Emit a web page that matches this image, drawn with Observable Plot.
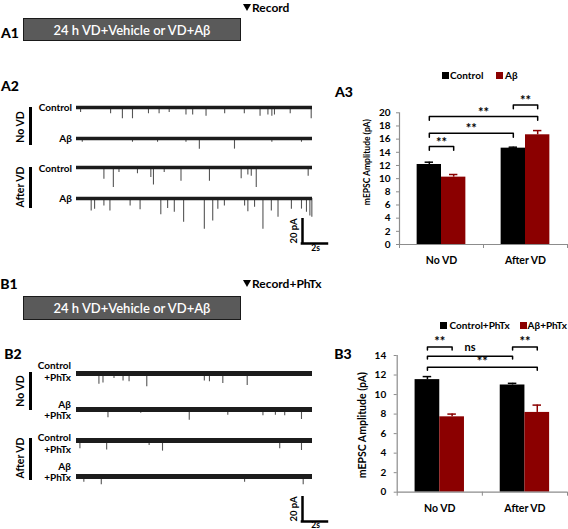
<!DOCTYPE html>
<html>
<head>
<meta charset="utf-8">
<script src="https://cdn.jsdelivr.net/npm/d3@7"></script>
<script src="https://cdn.jsdelivr.net/npm/@observablehq/plot@0.6"></script>
<style>
  html, body { margin: 0; padding: 0; background: #fff; }
  #fig { position: relative; width: 568px; height: 529px; overflow: hidden;
         font-family: Lato, "Open Sans", "DejaVu Sans", sans-serif; font-weight: 700; color: #000; }
  .t { position: absolute; white-space: nowrap; line-height: 1; transform: translate(-50%, -50%); }
  .r { position: absolute; white-space: nowrap; line-height: 1; transform: translate(-100%, -50%); }
  .l { position: absolute; white-space: nowrap; line-height: 1; transform: translate(0, -50%); }
  .rot { position: absolute; white-space: nowrap; line-height: 1; transform: translate(-50%, -50%) rotate(-90deg); }
  .panel { font-size: 14px; font-weight: 900; }
  .trl { font-size: 10px; }
  .grp { font-size: 10.5px; }
  .vbar { position: absolute; width: 3px; background: #000; }
  .box { position: absolute; left: 23px; width: 218px; box-sizing: border-box; background: #5a5a5a;
         border: 1.5px solid #1a1a1a; color: #fff; font-size: 13px; font-weight: 600;
         display: flex; align-items: center; justify-content: center; }
  .tri { position: absolute; width: 0; height: 0; border-left: 4px solid transparent;
         border-right: 4px solid transparent; border-top: 7px solid #000; }
  .sq { position: absolute; width: 7px; height: 7px; }
  .leg { font-size: 10px; }
  .plotabs { position: absolute; }
</style>
</head>
<body>
<div id="fig">
  <!-- A1 -->
  <div class="t panel" style="left:10px;top:33px">A1</div>
  <div class="box" style="top:18px;height:23px">24 h VD+Vehicle or VD+Aβ</div>
  <div class="tri" style="left:243px;top:4px"></div>
  <div class="l" style="left:252px;top:7.5px;font-size:12px">Record</div>

  <!-- A2 labels -->
  <div class="t panel" style="left:10px;top:86px">A2</div>
  <div class="r trl" style="left:72px;top:107px">Control</div>
  <div class="r trl" style="left:72px;top:138px">Aβ</div>
  <div class="r trl" style="left:72px;top:168px">Control</div>
  <div class="r trl" style="left:72px;top:198px">Aβ</div>
  <div class="vbar" style="left:29px;top:107px;height:38px"></div>
  <div class="vbar" style="left:29px;top:167px;height:41px"></div>
  <div class="rot grp" style="left:20px;top:127px">No VD</div>
  <div class="rot grp" style="left:20px;top:187px">After VD</div>

  <!-- A3 -->
  <div class="t panel" style="left:344px;top:92px">A3</div>
  <div class="sq" style="left:441.5px;top:71.5px;background:#000"></div>
  <div class="l leg" style="left:450px;top:75px">Control</div>
  <div class="sq" style="left:496px;top:71.5px;background:#8b0000"></div>
  <div class="l leg" style="left:505px;top:75px">Aβ</div>

  <!-- B1 -->
  <div class="t panel" style="left:9px;top:284px">B1</div>
  <div class="box" style="top:296px;height:24px">24 h VD+Vehicle or VD+Aβ</div>
  <div class="tri" style="left:243px;top:280px"></div>
  <div class="l" style="left:252px;top:284px;font-size:12px">Record+PhTx</div>

  <!-- B2 labels -->
  <div class="t panel" style="left:13px;top:354px">B2</div>
  <div class="r trl" style="left:71px;top:365px">Control</div>
  <div class="r trl" style="left:71px;top:377px">+PhTx</div>
  <div class="r trl" style="left:71px;top:403.5px">Aβ</div>
  <div class="r trl" style="left:71px;top:414.5px">+PhTx</div>
  <div class="r trl" style="left:71px;top:437px">Control</div>
  <div class="r trl" style="left:71px;top:449px">+PhTx</div>
  <div class="r trl" style="left:71px;top:465.5px">Aβ</div>
  <div class="r trl" style="left:71px;top:477px">+PhTx</div>
  <div class="vbar" style="left:29px;top:372px;height:38px"></div>
  <div class="vbar" style="left:29px;top:438px;height:42px"></div>
  <div class="rot grp" style="left:20px;top:391px">No VD</div>
  <div class="rot grp" style="left:20px;top:458px">After VD</div>

  <!-- B3 -->
  <div class="t panel" style="left:343px;top:353.5px">B3</div>
  <div class="sq" style="left:440px;top:321.5px;background:#000"></div>
  <div class="l leg" style="left:449.5px;top:325px">Control+PhTx</div>
  <div class="sq" style="left:519.5px;top:321.5px;background:#8b0000"></div>
  <div class="l leg" style="left:527.5px;top:325px">Aβ+PhTx</div>
</div>

<script>
// ---------------- DATA ----------------
const traceDuration = 18; // seconds shown in each trace

// spikes: [time (s), amplitude (pA, downward)]
const spikesA_noVD_control = [[0.31,4],[2.6,5],[3.5,9],[4.27,9],[5.49,5],[6.3,5],[7.07,4],[8.35,6],[8.86,6],[9.88,7],[11.3,5],[12.8,5],[14.0,7],[14.6,6],[14.9,7],[15.1,6],[16.3,5],[17.9,9]];
const spikesA_noVD_abeta = [[0.44,3],[4.27,3],[6.18,3],[8.35,3],[9.37,8.5],[12.05,8.5],[14.9,3],[17.16,3]];
const spikesA_afterVD_control = [[2.09,9.4],[2.81,16],[3.24,4],[4.65,5],[5.67,8],[5.87,14],[6.69,4],[7.97,11],[10.14,11],[12.56,9],[13.07,6],[13.33,7],[13.71,16],[17.67,7]];
const spikesA_afterVD_abeta = [[1.12,10],[1.38,8.5],[2.09,6],[2.55,10],[4.09,6],[4.85,9],[6.43,13],[6.95,8],[7.46,11],[8.17,19],[9.75,24.5],[10.39,18],[10.78,8.5],[11.28,6],[12.82,6],[13.07,10.5],[13.58,7],[14.22,24.5],[14.86,10],[15.37,15],[16.39,8.5],[17.16,8.5],[17.54,11],[17.8,14],[17.95,15]];

const spikesB_noVD_control = [[1.71,8.5],[2.02,7.5],[2.86,4],[3.55,6],[4.01,6.5],[5.36,10.5],[9.75,6],[10.14,6.5],[11.16,8],[13.02,9.5]];
const spikesB_noVD_abeta = [[2.4,6.5],[4.9,3],[8.6,8.5],[11.54,4.5],[14.22,5],[15.17,4.5],[15.88,5],[17.16,8]];
const spikesB_afterVD_control = [[0.26,6.5],[2.3,7.5],[5.54,4],[6.56,8.5],[15.5,6.5],[17.16,8]];
const spikesB_afterVD_abeta = [[0.56,4.5],[1.89,6.5],[12.82,4.5],[17.29,6.5]];

const scaleBarPA = 20;  // pA
const scaleBarS = 2;    // s

// Bar charts
const groups = ["No VD", "After VD"];

const seriesA3 = ["Control", "Aβ"];
const a3ControlMean = [12.15, 14.63];
const a3ControlSem  = [0.35, 0.15];
const a3AbetaMean   = [10.23, 16.66];
const a3AbetaSem    = [0.40, 0.64];
const a3Ticks = [0, 2, 4, 6, 8, 10, 12, 14, 16, 18, 20];
const a3Comparisons = [
  {from: [0, 0], to: [0, 1], level: 14.9, label: "**"},
  {from: [0, 0], to: [1, 0], level: 16.9, label: "**"},
  {from: [0, 0], to: [1, 1], level: 19.45, label: "**"},
  {from: [1, 0], to: [1, 1], level: 21.2, label: "**"}
];

const seriesB3 = ["Control+PhTx", "Aβ+PhTx"];
const b3ControlMean = [11.53, 10.98];
const b3ControlSem  = [0.31, 0.17];
const b3AbetaMean   = [7.72, 8.17];
const b3AbetaSem    = [0.28, 0.75];
const b3Ticks = [0, 2, 4, 6, 8, 10, 12, 14];
const b3Comparisons = [
  {from: [0, 0], to: [0, 1], level: 14.86, label: "**"},
  {from: [0, 0], to: [1, 0], level: 13.93, label: "ns"},
  {from: [0, 0], to: [1, 1], level: 12.8, label: "**"},
  {from: [1, 0], to: [1, 1], level: 14.86, label: "**"}
];

const yLabel = "mEPSC Amplitude (pA)";
const barColors = ["#000000", "#8b0000"];

// ---------------- DRAWING ----------------
const fig = document.getElementById("fig");
const FONT = 'Lato, "Open Sans", "DejaVu Sans", sans-serif';

function place(svg, left, top) {
  svg.classList.add("plotabs");
  svg.style.left = left + "px";
  svg.style.top = top + "px";
  fig.appendChild(svg);
}

const TRACE_W = 237, TRACE_PX = 236;
function tracePlot(spikes, baselineY, noiseW) {
  const svg = Plot.plot({
    width: TRACE_W, height: 45, margin: 0,
    x: {domain: [0, traceDuration], range: [0, TRACE_PX], axis: null},
    y: {domain: [-32, 4], range: [45, 0], axis: null},
    style: {background: "transparent", overflow: "visible"},
    marks: [
      Plot.ruleX(spikes, {x: d => d[0], y1: 0, y2: d => -d[1], stroke: "#555", strokeWidth: 1.1}),
      Plot.ruleY([0], {x1: 0, x2: traceDuration, stroke: "#1c1c1c", strokeWidth: noiseW})
    ]
  });
  place(svg, 76, baselineY - 5);
}

tracePlot(spikesA_noVD_control, 106.7, 3.6);
tracePlot(spikesA_noVD_abeta, 137.7, 3.6);
tracePlot(spikesA_afterVD_control, 166.7, 3.6);
tracePlot(spikesA_afterVD_abeta, 197.7, 3.6);

tracePlot(spikesB_noVD_control, 373, 5);
tracePlot(spikesB_noVD_abeta, 409.3, 5);
tracePlot(spikesB_afterVD_control, 439.8, 5);
tracePlot(spikesB_afterVD_abeta, 475.8, 5);

function scaleBar(left, top, textDy) {
  const pxPerS = TRACE_PX / traceDuration;
  const svg = Plot.plot({
    width: 50, height: 42, margin: 0,
    x: {domain: [0, scaleBarS], range: [12, 12 + scaleBarS * pxPerS], axis: null},
    y: {domain: [0, scaleBarPA], range: [33, 8], axis: null},
    style: {background: "transparent", overflow: "visible", fontFamily: FONT, fontWeight: "bold", fontSize: "9px"},
    marks: [
      Plot.ruleX([0], {y1: 0, y2: scaleBarPA, stroke: "#000", strokeWidth: 2.5}),
      Plot.ruleY([0], {x1: -0.1, x2: scaleBarS, stroke: "#000", strokeWidth: 2.5}),
      Plot.text([`${scaleBarPA} pA`], {x: 0, y: scaleBarPA / 2, rotate: -90, dx: -9, fontSize: 9.5, fill: "#000"}),
      Plot.text([`${scaleBarS}s`], {x: scaleBarS / 2, y: 0, dy: textDy, fontSize: 8.5, fill: "#000"})
    ]
  });
  place(svg, left, top);
}
scaleBar(290, 210, 4.5);
scaleBar(289.5, 487.7, 3.5);

function barChart({series, ctrlMean, ctrlSem, abMean, abSem, ticks, comps, left, top, width, height,
                   mLeft, mTop, mBottom, tickPad, labelDx, labelDy, labelSize, bracketDrop, starDy, nsDy}) {
  const w = 0.29;
  const rows = groups.flatMap((g, gi) => [
    {g, gi, si: 0, s: series[0], mean: ctrlMean[gi], sem: ctrlSem[gi]},
    {g, gi, si: 1, s: series[1], mean: abMean[gi], sem: abSem[gi]}
  ]);
  const cx = (gi, si) => gi + (si - 0.5) * w;
  const bracketPts = comps.flatMap((c, k) => {
    const xa = cx(...c.from), xb = cx(...c.to);
    return [
      {k, x: xa, y: c.level - bracketDrop},
      {k, x: xa, y: c.level},
      {k, x: xb, y: c.level},
      {k, x: xb, y: c.level - bracketDrop}
    ];
  });
  const yMax = ticks[ticks.length - 1];
  const svg = Plot.plot({
    width, height, marginLeft: mLeft, marginRight: 1, marginTop: mTop, marginBottom: mBottom,
    x: {domain: [-0.5, groups.length - 0.5], axis: null},
    y: {domain: [0, yMax], axis: null},
    color: {domain: series, range: barColors},
    style: {background: "transparent", overflow: "visible", fontFamily: FONT, fontWeight: "bold", fontSize: "10px", color: "#000"},
    marks: [
      Plot.rectY(rows, {x1: d => d.gi + (d.si - 1) * w, x2: d => d.gi + d.si * w, y: "mean", fill: "s"}),
      Plot.ruleX(rows, {x: d => cx(d.gi, d.si), y1: "mean", y2: d => d.mean + d.sem, stroke: "s", strokeWidth: 1.5}),
      Plot.ruleY(rows, {y: d => d.mean + d.sem, x1: d => cx(d.gi, d.si) - 0.05, x2: d => cx(d.gi, d.si) + 0.05, stroke: "s", strokeWidth: 1.5}),
      Plot.ruleX([-0.5], {y1: 0, y2: yMax, stroke: "#8c8c8c", strokeWidth: 1.2}),
      Plot.ruleY([0], {x1: -0.5, x2: groups.length - 0.5, stroke: "#8c8c8c", strokeWidth: 1.2}),
      Plot.axisY({ticks, tickSize: 3, tickPadding: tickPad, stroke: "#8c8c8c", fill: "#000", fontSize: 10, fontWeight: "bold", label: null}),
      Plot.axisX({ticks: d3.range(-0.5, groups.length, 1), tickSize: 4, tickFormat: () => "", stroke: "#8c8c8c", label: null}),
      Plot.text(groups, {x: (d, i) => i, y: 0, dy: 16, text: d => d, fontSize: 10.5, fill: "#000"}),
      Plot.text([yLabel], {frameAnchor: "left", textAnchor: "middle", rotate: -90, dx: labelDx, dy: labelDy, fontSize: labelSize, fill: "#000"}),
      Plot.line(bracketPts, {x: "x", y: "y", z: "k", stroke: "#000", strokeWidth: 1.5}),
      Plot.text(comps, {x: c => (cx(...c.from) + cx(...c.to)) / 2, y: "level", text: "label",
                        fontSize: 13, fill: "#000", filter: c => c.label === "**", dy: starDy}),
      Plot.text(comps, {x: c => (cx(...c.from) + cx(...c.to)) / 2, y: "level", text: "label",
                        fontSize: 11, fill: "#000", filter: c => c.label !== "**", dy: nsDy})
    ]
  });
  place(svg, left, top);
}

barChart({series: seriesA3, ctrlMean: a3ControlMean, ctrlSem: a3ControlSem, abMean: a3AbetaMean, abSem: a3AbetaSem,
  ticks: a3Ticks, comps: a3Comparisons, left: 330, top: 60, width: 238, height: 215,
  mLeft: 69, mTop: 52.3, mBottom: 31, tickPad: 6, labelDx: -32.3, labelDy: -16.5, labelSize: 8.5,
  bracketDrop: 0.6, starDy: -4, nsDy: -9});

barChart({series: seriesB3, ctrlMean: b3ControlMean, ctrlSem: b3ControlSem, abMean: b3AbetaMean, abSem: b3AbetaSem,
  ticks: b3Ticks, comps: b3Comparisons, left: 330, top: 300, width: 238, height: 229,
  mLeft: 66.7, mTop: 55, mBottom: 37.3, tickPad: 8, labelDx: -35, labelDy: 1.3, labelSize: 10.5,
  bracketDrop: 0.3, starDy: -5.6, nsDy: -9});
</script>
</body>
</html>
